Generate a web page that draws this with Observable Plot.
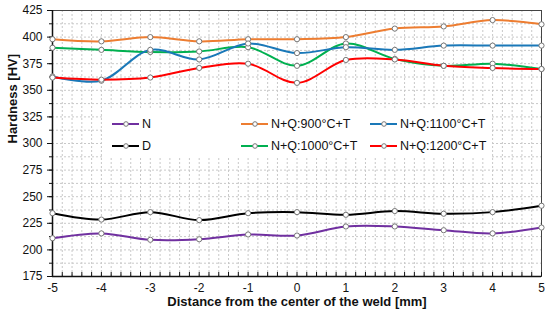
<!DOCTYPE html>
<html>
<head>
<meta charset="utf-8">
<script src="https://cdn.jsdelivr.net/npm/d3@7"></script>
<script src="https://cdn.jsdelivr.net/npm/@observablehq/plot@0.6"></script>
<style>
  html, body { margin: 0; padding: 0; background: #fff; }
  #wrap { position: relative; width: 550px; height: 320px; font-family: "Liberation Sans", Arial, sans-serif; }
  #legend { position: absolute; left: 102px; top: 110px; width: 388px; height: 48px; background: #fff; }
  .item { position: absolute; display: flex; align-items: center; font-size: 12.5px; color: #111; white-space: nowrap; }
  .item svg { margin-right: 3px; }
</style>
</head>
<body>
<div id="wrap"></div>
<script>
const distances = [-5, -4, -3, -2, -1, 0, 1, 2, 3, 4, 5];
const seriesNames = ["N", "D", "N+Q:900°C+T", "N+Q:1000°C+T", "N+Q:1100°C+T", "N+Q:1200°C+T"];
const seriesColors = ["#7030A0", "#000000", "#ED7D31", "#00B050", "#1A78B8", "#FF0000"];
const hvN     = [211, 215.5, 209.5, 210, 214.5, 213.5, 222, 222, 218.5, 215.5, 221];
const hvD     = [234.5, 228.5, 235.5, 228, 234.5, 235.5, 233, 236.5, 234, 235.5, 241.5];
const hv900   = [398, 396, 400, 396, 398, 398, 400, 408, 410, 416, 412];
const hv1000  = [390, 388, 386, 386.5, 390.5, 373, 394, 379.5, 373, 375, 370];
const hv1100  = [363, 359, 388, 379, 394, 385, 390.5, 388, 392, 392, 392];
const hv1200  = [362, 360, 362, 371, 375, 357, 378.5, 379, 373, 371, 370];
const xTicks = [-5, -4, -3, -2, -1, 0, 1, 2, 3, 4, 5];
const yTicks = [175, 200, 225, 250, 275, 300, 325, 350, 375, 400, 425];
const xMinor = d3.range(-5, 5.0001, 0.2).map(v => +v.toFixed(2));
const yMinor = d3.range(175, 425.1, 12.5);
const xTitle = "Distance from the center of the weld [mm]";
const yTitle = "Hardness [HV]";

const allValues = [hvN, hvD, hv900, hv1000, hv1100, hv1200];
const data = [];
seriesNames.forEach((s, i) => {
  distances.forEach((d, j) => data.push({series: s, x: d, y: allValues[i][j]}));
});

const chart = Plot.plot({
  width: 550,
  height: 320,
  marginLeft: 52,
  marginRight: 9,
  marginTop: 10,
  marginBottom: 44,
  style: {fontFamily: "'Liberation Sans', Arial, sans-serif", fontSize: "12px", color: "#111", background: "#fff"},
  x: {domain: [-5, 5]},
  y: {domain: [175, 425]},
  color: {domain: seriesNames, range: seriesColors},
  marks: [
    Plot.gridX(xMinor, {stroke: "#c8c8c8", strokeOpacity: 1, strokeDasharray: "2,2"}),
    Plot.gridY(yMinor, {stroke: "#c8c8c8", strokeOpacity: 1, strokeDasharray: "2,2"}),
    Plot.frame({stroke: "#444", strokeWidth: 1}),
    Plot.axisY(yMinor, {tickSize: 3, tickFormat: () => "", label: null, stroke: "#111"}),
    Plot.axisY(yTicks, {tickSize: 5, tickPadding: 5, fontSize: 12, label: null, stroke: "#111", tickFormat: d => String(d)}),
    Plot.axisX(xMinor, {tickSize: -4, tickFormat: () => "", label: null, stroke: "#111"}),
    Plot.axisX(xTicks, {tickSize: 0, tickPadding: 7, fontSize: 12, label: null, tickFormat: d => String(d)}),
    Plot.ruleY([175], {stroke: "#111", strokeWidth: 1.5}),
    Plot.ruleX([-5], {stroke: "#111", strokeWidth: 1.5}),
    Plot.text([xTitle], {text: d => d, frameAnchor: "bottom", dy: 29, fontSize: 13, fontWeight: "bold", fill: "#111"}),
    Plot.text([yTitle], {text: d => d, frameAnchor: "left", dx: -40, rotate: -90, fontSize: 13, fontWeight: "bold", fill: "#111"}),
    Plot.line(data, {x: "x", y: "y", z: "series", stroke: "series", strokeWidth: 2, curve: "catmull-rom"}),
    Plot.dot(data, {x: "x", y: "y", r: 2.6, fill: "#fff", stroke: "#777", strokeWidth: 1})
  ]
});

const wrap = document.getElementById("wrap");
wrap.appendChild(chart);

// legend overlay
const legend = document.createElement("div");
legend.id = "legend";
const colLeft = [10, 139, 268];
const rowTop = [7, 29];
const order = [[0, 2, 4], [1, 3, 5]];
order.forEach((row, r) => row.forEach((si, c) => {
  const item = document.createElement("div");
  item.className = "item";
  item.style.left = colLeft[c] + "px";
  item.style.top = rowTop[r] + "px";
  item.innerHTML = `<svg width="27" height="10"><line x1="0" y1="5" x2="27" y2="5" stroke="${seriesColors[si]}" stroke-width="2"/><circle cx="14" cy="5" r="2.3" fill="#fff" stroke="#777" stroke-width="1"/></svg><span>${seriesNames[si]}</span>`;
  legend.appendChild(item);
}));
wrap.appendChild(legend);
</script>
</body>
</html>
